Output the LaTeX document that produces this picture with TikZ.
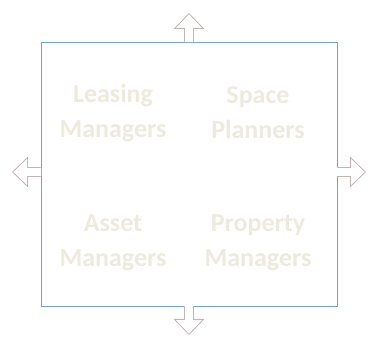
\documentclass[tikz,border=0pt]{standalone}
\usepackage{fontspec}
\setmainfont{Carlito}
\usetikzlibrary{positioning,calc}

\definecolor{panelblue}{RGB}{110,165,210}
\definecolor{arrowrose}{RGB}{200,178,178}
\definecolor{roletext}{RGB}{237,234,222}

\begin{document}
\begin{tikzpicture}[
    x=1pt, y=-1pt,
    panel/.style={draw=panelblue, line width=0.8pt, minimum width=296pt, minimum height=264pt, inner sep=0pt},
    role/.style={font=\fontsize{26}{35}\selectfont\bfseries, text=roletext, align=center},
    arrowline/.style={draw=arrowrose, line width=0.8pt, line join=miter},
    blockarrow/.pic={
        \fill[white] (-4.5,-0.6) -- (-4.5,13) -- (-14.5,13) -- (0,28) -- (14.5,13) -- (4.5,13) -- (4.5,-0.6) -- cycle;
        \draw[arrowline] (-4.5,0) -- (-4.5,13) -- (-14.5,13) -- (0,28) -- (14.5,13) -- (4.5,13) -- (4.5,0);
    }
]
\useasboundingbox (0,0) rectangle (368,339);

% Frame
\node[panel] (frame) at (189,174) {};

% Roles
\node[role] (leasing) at (113,113) {Leasing\\Managers};
\node[role] (space) at (258,113) {Space\\Planners};
\node[role] (asset) at (113,243) {Asset\\Managers};
\node[role] (property) at (258,243) {Property\\Managers};

% Arrows out of the frame
\pic[rotate=180] at (frame.north) {blockarrow};
\pic at (frame.south) {blockarrow};
\pic[rotate=-90] at ($(frame.west)+(0,-2)$) {blockarrow};
\pic[rotate=90] at ($(frame.east)+(0,-2)$) {blockarrow};

\end{tikzpicture}
\end{document}
